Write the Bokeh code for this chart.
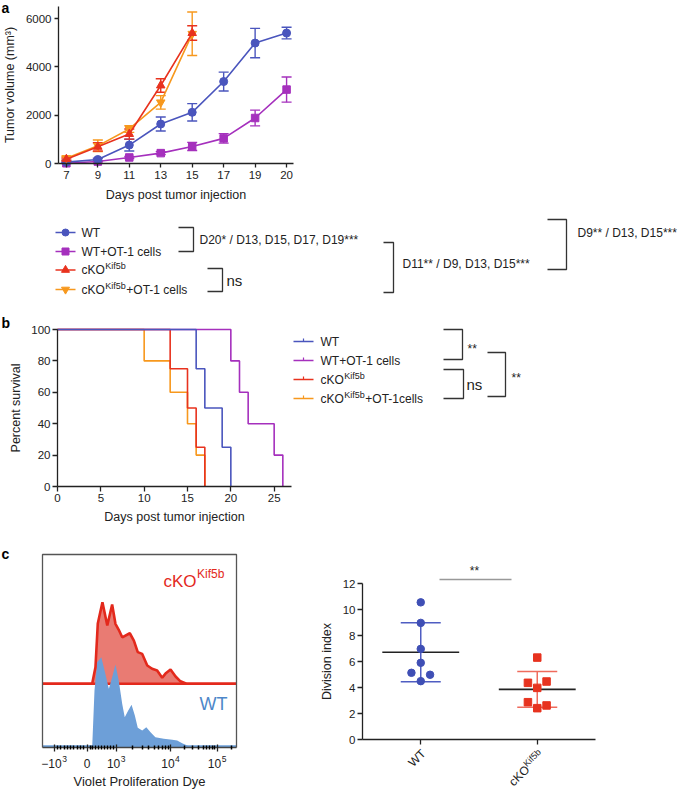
import numpy as np
from bokeh.plotting import figure
from bokeh.models import Range1d, FixedTicker, Whisker, ColumnDataSource
from bokeh.layouts import column, row
from bokeh.core.properties import value
from bokeh.embed import file_html
from bokeh.resources import INLINE

FONT = "Liberation Sans"
S = 1.0  # page px per reference px

# ---------------- panel a data ----------------
days = ["7", "9", "11", "13", "15", "17", "19", "20"]
wt_vol = [55, 166, 762, 1634, 2119, 3393, 4986, 5400]
wt_sem = [30, 50, 245, 290, 360, 390, 610, 240]
wtot_vol = [10, 80, 250, 430, 706, 1040, 1884, 3060]
wtot_sem = [15, 25, 40, 60, 170, 195, 325, 520]
ko_vol = [180, 690, 1220, 3230, 5400]
ko_sem = [50, 170, 210, 280, 300]
kot_vol = [222, 730, 1430, 2530, 5370]
kot_sem = [80, 240, 140, 280, 900]

# ---------------- panel b data ----------------
surv_wt_t = [0, 16, 17, 19, 20]
surv_wt = [100, 75, 50, 25, 0]
surv_wtot_t = [0, 20, 21, 22, 25, 26]
surv_wtot = [100, 80, 60, 40, 20, 0]
surv_ko_t = [0, 13, 15, 16, 17]
surv_ko = [100, 75, 50, 25, 0]
surv_kot_t = [0, 10, 13, 15, 16, 17]
surv_kot = [100, 80, 60, 40, 20, 0]

# ---------------- panel c data ----------------
hist_ticks = [6, 23, 38, 66, 90]
hist_tick_main = ["\u221210", "0", "10", "10", "10"]
hist_tick_sup = ["3", "", "3", "4", "5"]
wt_hx = [0, 25.6, 26.8, 28.2, 30.3, 32.0, 34.2, 35.9, 37.6, 39.3, 41.1, 42.4, 44.2, 45.9,
         47.6, 49.1, 51.4, 53.5, 55.7, 58.2, 62.5, 66.9, 69.4, 72.0, 74.6, 76.3, 100]
wt_hy = [0, 0, 29.5, 44.2, 46.8, 39.9, 30.4, 36.4, 43.0, 34.7, 22.6, 15.7, 19.2, 22.1,
         16.6, 10.2, 8.8, 10.5, 7.9, 5.3, 4.5, 4.0, 3.6, 2.2, 1.0, 0, 0]
ko_hx = [0, 25.6, 27.3, 28.5, 30.9, 33.4, 35.9, 37.6, 39.3, 41.1, 45.0, 47.1, 49.1, 51.4,
         54.0, 56.5, 59.1, 61.7, 63.4, 66.0, 68.6, 71.1, 74.2, 100]
ko_hy = [0, 0, 8.6, 31.2, 42.3, 30.2, 41.1, 31.1, 28.0, 24.1, 26.2, 22.4, 16.4, 15.5,
         9.5, 7.8, 6.9, 3.1, 5.3, 7.4, 3.8, 1.3, 0, 0]
ko_offset = 33.0

div_groups = ["WT", "cKO"]
wt_div = [10.55, 8.97, 6.97, 5.9, 5.13, 4.98, 4.49]
wt_jit = [0, 0, 0, 0, -0.08, 0.08, 0]
ko_div = [6.3, 4.36, 4.46, 3.97, 2.87, 2.62, 2.41]
ko_jit = [0, -0.08, 0.08, 0, -0.08, 0.08, 0]

C_WT = "#4a55bd"
C_WTOT = "#a530bd"
C_KO = "#e8321e"
C_KOT = "#f7981d"
INK = "#222222"

WIDTH = {' ': 278, '*': 389, '+': 584, ',': 278, '-': 333, '/': 278, 'D': 722, 'K': 667,
         'O': 778, 'T': 611, 'W': 944, 'b': 556, 'c': 500, 'e': 556, 'f': 278, 'i': 222,
         'l': 222, 'n': 556, 's': 500, '\u2212': 584}


def tw(s, size):
    return sum(WIDTH.get(ch, 556) for ch in s) / 1000.0 * size


class Panel:
    """A figure whose frame covers the whole canvas; a box inside it holds the plot."""

    def __init__(self, ox, oy, w, h, ref_box=None, xlim=None, ylim=None):
        self.ox, self.oy, self.w, self.h = ox, oy, w, h
        if ref_box is None:  # plain drawing canvas in reference px
            xr = Range1d(ox / S, (ox + w) / S)
            yr = Range1d((oy + h) / S, oy / S)
        else:
            l, t, r, b = [v * S for v in ref_box]
            l -= ox; r -= ox; t -= oy; b -= oy
            kx = (xlim[1] - xlim[0]) / (r - l)
            ky = (ylim[1] - ylim[0]) / (b - t)
            xr = Range1d(xlim[0] - l * kx, xlim[1] + (w - r) * kx)
            yr = Range1d(ylim[0] - (h - b) * ky, ylim[1] + t * ky)
        self.xr, self.yr = xr, yr
        kw = {}
        if ref_box is None:
            kw = dict(x_axis_type=None, y_axis_type=None)
        self.p = figure(width=w, height=h, x_range=xr, y_range=yr, min_border=0,
                        toolbar_location=None, output_backend="svg", **kw)
        p = self.p
        p.outline_line_color = None
        p.background_fill_color = "white"
        p.border_fill_color = "white"
        p.grid.visible = False
        if ref_box is not None:
            p.xaxis.fixed_location = ylim[0]
            p.yaxis.fixed_location = xlim[0]
            p.xaxis.bounds = tuple(xlim)
            p.yaxis.bounds = tuple(ylim)

    def ref(self, rx, ry):
        """reference-image px -> data coordinates of this panel"""
        px = rx * S - self.ox
        py = ry * S - self.oy
        x = self.xr.start + (self.xr.end - self.xr.start) * px / self.w
        y = self.yr.end - (self.yr.end - self.yr.start) * py / self.h
        return x, y

    def text(self, rx, ry, s, size, color=INK, align="left", style="normal", angle=0):
        x, y = self.ref(rx, ry)
        self.p.text(x=[x], y=[y], text=[s], text_font=value(FONT),
                    text_font_size=f"{size}px", text_baseline="middle", text_align=align,
                    text_color=color, text_font_style=style, angle=angle,
                    angle_units="deg")

    def rich(self, rx, ry, main, sup, tail="", size=12, sup_size=9, color=INK, rise=4):
        self.text(rx, ry, main, size, color)
        x2 = rx + tw(main, size) / S
        if sup:
            self.text(x2 + 0.5, ry - rise, sup, sup_size, color)
            x2 = x2 + 0.5 + tw(sup, sup_size) / S
        if tail:
            self.text(x2 + 0.5, ry, tail, size, color)

    def poly(self, pts, color="#333333", width=1.3):
        xy = [self.ref(a, b) for a, b in pts]
        self.p.line(x=[q[0] for q in xy], y=[q[1] for q in xy], line_color=color,
                    line_width=width)


def style_axes(p, tick_out=4, standoff=4, lab_standoff=6, tick_size="11.5px", lab_size="12.5px"):
    for ax in p.axis:
        ax.axis_line_color = INK
        ax.axis_line_width = 1.3
        ax.major_tick_line_color = INK
        ax.major_tick_line_width = 1.3
        ax.major_tick_in = 0
        ax.major_tick_out = tick_out
        ax.minor_tick_line_color = None
        ax.major_label_standoff = standoff
        ax.axis_label_standoff = lab_standoff
        ax.major_label_text_font = FONT
        ax.major_label_text_font_size = tick_size
        ax.major_label_text_color = INK
        ax.axis_label_text_font = FONT
        ax.axis_label_text_font_size = lab_size
        ax.axis_label_text_font_style = "normal"
        ax.axis_label_text_color = INK


def bracket(P, x0, x1, y0, y1):
    P.poly([(x0, y0), (x1, y0), (x1, y1), (x0, y1)])


# =============== panel a ===============
A = Panel(0, 0, 306, 204, (58, 6, 293, 163), (-0.25, 7.22), (0, 6500))
pa = A.p
style_axes(pa, tick_out=4, standoff=3, lab_standoff=6)
xi = np.arange(len(days))
pa.xaxis.ticker = FixedTicker(ticks=[int(i) for i in xi])
pa.xaxis.major_label_overrides = {int(i): d for i, d in zip(xi, days)}
pa.yaxis.ticker = FixedTicker(ticks=[0, 2000, 4000, 6000])
pa.xaxis.axis_label = "Days post tumor injection"
pa.yaxis.axis_label = "Tumor volume (mm\u00b3)"


def series(p, y, e, color, marker, size):
    x = np.arange(len(y))
    y = np.array(y, dtype=float)
    e = np.array(e, dtype=float)
    src = ColumnDataSource(dict(x=x, y=y, lo=np.maximum(y - e, 0), hi=y + e))
    p.line("x", "y", source=src, line_color=color, line_width=1.6)
    w = Whisker(source=src, base="x", upper="hi", lower="lo", line_color=color, line_width=1.4)
    for hd in (w.upper_head, w.lower_head):
        hd.size = 10
        hd.line_color = color
        hd.line_width = 1.4
    p.add_layout(w)
    p.scatter("x", "y", source=src, marker=marker, size=size, fill_color=color, line_color=color)


series(pa, wtot_vol, wtot_sem, C_WTOT, "square", 7.5)
series(pa, wt_vol, wt_sem, C_WT, "circle", 8)
series(pa, kot_vol, kot_sem, C_KOT, "inverted_triangle", 8.5)
series(pa, ko_vol, ko_sem, C_KO, "triangle", 8.5)
A.text(1, 7, "a", 14, color="black", style="bold")

# =============== legend a ===============
LA = Panel(0, 204, 685, 102)
la = LA.p
leg_a = [("WT", "", "", C_WT, "circle", 7), ("WT+OT-1 cells", "", "", C_WTOT, "square", 7),
         ("cKO", "Kif5b", "", C_KO, "triangle", 8),
         ("cKO", "Kif5b", "+OT-1 cells", C_KOT, "inverted_triangle", 8)]
rows_a = [232, 251, 269.5, 289]
for (m, s, t, c, mk, sz), yy in zip(leg_a, rows_a):
    la.line(x=[55, 75], y=[yy, yy], line_color=c, line_width=1.6)
    la.scatter(x=[65], y=[yy], marker=mk, size=sz, fill_color=c, line_color=c)
    LA.rich(81, yy, m, s, t)
bracket(LA, 178, 193, 227, 251)
LA.text(199, 239, "D20* / D13, D15, D17, D19***", 12)
bracket(LA, 207, 222, 268, 291)
LA.text(226, 280, "ns", 15)
bracket(LA, 383, 393, 242, 292)
LA.text(402, 263, "D11** / D9, D13, D15***", 12)
bracket(LA, 547, 566, 219, 269)
LA.text(577, 232, "D9** / D13, D15***", 12)

# =============== panel b ===============
B = Panel(0, 306, 292, 224, (57, 329, 291, 486), (0, 27), (0, 100))
pb = B.p
style_axes(pb, tick_out=5, standoff=2, lab_standoff=5)
pb.xaxis.ticker = FixedTicker(ticks=[0, 5, 10, 15, 20, 25])
pb.yaxis.ticker = FixedTicker(ticks=[0, 20, 40, 60, 80, 100])
pb.xaxis.axis_label = "Days post tumor injection"
pb.yaxis.axis_label = "Percent survival"
for t, s, c in [(surv_kot_t, surv_kot, C_KOT), (surv_ko_t, surv_ko, C_KO),
                (surv_wtot_t, surv_wtot, C_WTOT), (surv_wt_t, surv_wt, C_WT)]:
    pb.step(x=t, y=s, mode="after", line_color=c, line_width=1.6)
B.text(1, 322, "b", 14, color="black", style="bold")

# =============== legend b ===============
LB = Panel(292, 306, 393, 224)
lb = LB.p
leg_b = [("WT", "", "", C_WT), ("WT+OT-1 cells", "", "", C_WTOT), ("cKO", "Kif5b", "", C_KO),
         ("cKO", "Kif5b", "+OT-1cells", C_KOT)]
rows_b = [341, 360, 379, 398]
for (m, s, t, c), yy in zip(leg_b, rows_b):
    lb.line(x=[293, 313], y=[yy, yy], line_color=c, line_width=1.6)
    lb.line(x=[303, 303], y=[yy, yy - 3], line_color=c, line_width=1.2)
    LB.rich(320, yy, m, s, t)
bracket(LB, 443, 462, 329, 359)
LB.text(467, 348, "**", 12)
bracket(LB, 443, 463, 369, 398)
LB.text(466, 384, "ns", 15)
bracket(LB, 487, 505, 352, 396)
LB.text(511, 377, "**", 12)

# =============== panel c: histogram ===============
C1 = Panel(0, 530, 245, 259, (42, 554, 236, 747), (0, 100), (0, 100))
pc1 = C1.p
pc1.yaxis.visible = False
style_axes(pc1, tick_out=4, standoff=3, lab_standoff=3, tick_size="12px", lab_size="13px")
pc1.xaxis.axis_line_color = "#444444"
minor = []
for k in range(1, 10):
    minor.append(hist_ticks[0] + (hist_ticks[1] - hist_ticks[0]) * k / 10)
    minor.append(hist_ticks[1] + (hist_ticks[2] - hist_ticks[1]) * k / 10)
for k in range(2, 10):
    minor.append(hist_ticks[2] + (hist_ticks[3] - hist_ticks[2]) * np.log10(k))
    minor.append(hist_ticks[3] + (hist_ticks[4] - hist_ticks[3]) * np.log10(k))
minor.append(hist_ticks[4] + (hist_ticks[4] - hist_ticks[3]) * np.log10(2))
pc1.xaxis.ticker = FixedTicker(ticks=hist_ticks, minor_ticks=[float(m) for m in minor])
pc1.xaxis.major_label_overrides = {t: "" for t in hist_ticks}
pc1.xaxis.major_tick_in = 3
pc1.xaxis.minor_tick_line_color = "black"
pc1.xaxis.minor_tick_line_width = 1.5
pc1.xaxis.minor_tick_in = 2
pc1.xaxis.minor_tick_out = 2
ko_top = [ko_offset + v for v in ko_hy]
pc1.varea(x=ko_hx, y1=ko_offset, y2=ko_top, fill_color="#e97b73")
pc1.line(x=[0, 100], y=[ko_offset, ko_offset], line_color="#e3291c", line_width=2.6)
pc1.varea(x=wt_hx, y1=0, y2=wt_hy, fill_color="#6d9fd8")
pc1.line(x=[0, 100], y=[0.6, 0.6], line_color="#6d9fd8", line_width=2)
pc1.line(x=ko_hx, y=ko_top, line_color="#e3291c", line_width=2.6)
pc1.line(x=[0, 0, 100, 100], y=[0, 100, 100, 0], line_color="#555555", line_width=1.3)
C1.rich(163, 581, "cKO", "Kif5b", "", size=17, sup_size=12, color="#e3291c", rise=8)
C1.text(199, 703, "WT", 18, color="#4d87c9")
for t, m, s in zip(hist_ticks, hist_tick_main, hist_tick_sup):
    rx_t = 42 + t * 1.94
    wtot = (tw(m, 12) + (tw(s, 8.5) + 0.5 if s else 0)) / S
    C1.rich(rx_t - wtot / 2, 763, m, s, "", size=12, sup_size=8.5, rise=5)
C1.text(139, 781, "Violet Proliferation Dye", 13, align="center")
C1.text(1, 553, "c", 14, color="black", style="bold")

# =============== panel c: division index ===============
C2 = Panel(245, 530, 440, 259, (362, 583, 595, 739), (0.5, 2.5), (0, 12))
pc2 = C2.p
style_axes(pc2, tick_out=5, standoff=2, lab_standoff=6)
pc2.yaxis.ticker = FixedTicker(ticks=[0, 2, 4, 6, 8, 10, 12])
pc2.yaxis.axis_label = "Division index"
gx = np.arange(1, len(div_groups) + 1)
pc2.xaxis.ticker = FixedTicker(ticks=[int(g) for g in gx])
pc2.xaxis.major_label_overrides = {int(g): "" for g in gx}

for g, vals, jit, mcol, ecol, mk in [(gx[0], wt_div, wt_jit, "#3f4fb5", "#4f5dc2", "circle"),
                                      (gx[1], ko_div, ko_jit, "#e7331f", "#ef6b5c", "square")]:
    v = np.array(vals)
    m = v.mean()
    sd = v.std(ddof=1)
    src = ColumnDataSource(dict(x=[g], lo=[m - sd], hi=[m + sd]))
    w = Whisker(source=src, base="x", upper="hi", lower="lo", line_color=ecol, line_width=1.5)
    for hd in (w.upper_head, w.lower_head):
        hd.size = 40
        hd.line_color = ecol
        hd.line_width = 1.5
    pc2.add_layout(w)
    pc2.segment(x0=[g - 0.33], x1=[g + 0.33], y0=[m], y1=[m], line_color=INK, line_width=1.6)
    pc2.scatter(x=g + np.array(jit), y=v, marker=mk, size=7.5, fill_color=mcol, line_color=mcol)

C2.poly([(439, 579), (511, 579)], color="#999999", width=1.5)
C2.text(474, 570, "**", 12, align="center")
C2.text(423, 751, div_groups[0], 12, align="right", angle=45)
C2.text(539, 750, "Kif5b", 9, align="right", angle=45)
C2.text(527, 767, div_groups[1], 12, align="right", angle=45)

layout = column(pa, la, row(pb, lb), row(pc1, pc2))
open("out.html", "w").write(file_html(layout, INLINE))
